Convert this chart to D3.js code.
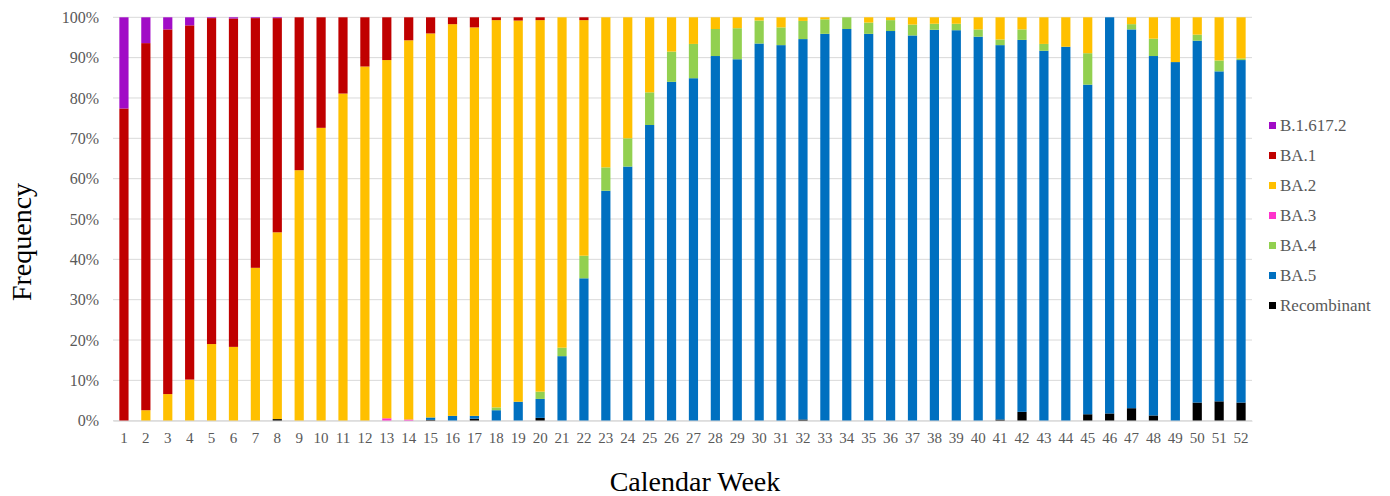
<!DOCTYPE html>
<html>
<head>
<meta charset="utf-8">
<script src="https://cdn.jsdelivr.net/npm/d3@7"></script>
<style>
  body { margin: 0; background: #fff; }
</style>
</head>
<body>
<div id="chart"></div>
<script>
// weeks 1..52
const weeks = d3.range(1, 53)

// variant names, bottom of stack first
const variants = ['Recombinant', 'BA.5', 'BA.4', 'BA.3', 'BA.2', 'BA.1', 'B.1.617.2']
const colors = ['#000000', '#0070C0', '#92D050', '#FF33CC', '#FFC000', '#C00000', '#A10CC6']
const legendOrder = ['B.1.617.2', 'BA.1', 'BA.2', 'BA.3', 'BA.4', 'BA.5', 'Recombinant']

// percentages per week
const recombinant = [0,0,0,0,0,0,0,0.4,0,0, 0,0,0,0,0.2,0,0.5,0,0,0.7, 0,0,0,0,0,0,0,0,0,0, 0,0.3,0,0,0,0,0,0,0,0, 0.3,2.2,0,0,1.6,1.8,3.1,1.3,0,4.5, 4.8,4.5]
const ba5 = [0,0,0,0,0,0,0,0,0,0, 0,0,0,0,0.6,1.2,0.7,2.6,4.7,4.7, 16.0,35.3,57.0,63.0,73.3,84.0,84.9,90.4,89.6,93.5, 93.1,94.3,95.9,97.1,95.9,96.6,95.5,96.9,96.8,95.2, 92.8,92.2,91.7,92.7,81.7,98.2,93.9,89.1,88.9,89.7, 81.8,84.9]
const ba4 = [0,0,0,0,0,0,0,0,0,0, 0,0,0,0,0,0,0,0.7,0,1.8, 2.1,5.6,5.8,7.0,8.1,7.5,8.5,6.7,7.7,5.7, 4.4,4.5,3.6,2.9,2.8,2.7,2.7,1.5,1.6,1.8, 1.4,2.6,1.7,0,7.8,0,1.3,4.3,0,1.5, 2.7,0.4]
const ba3 = [0,0,0,0,0,0,0,0,0,0, 0,0,0.6,0.3,0,0,0,0,0,0, 0,0,0,0,0,0,0,0,0,0, 0,0,0,0,0,0,0,0,0,0, 0,0,0,0,0,0,0,0,0,0, 0,0]
const ba2 = [0,2.6,6.6,10.2,19.0,18.3,37.9,46.3,62.1,72.6, 81.1,87.8,88.8,94.0,95.2,97.1,96.3,96.0,94.5,92.1, 81.9,58.4,37.2,30.0,18.6,8.5,6.6,2.9,2.7,0.8, 2.5,0.9,0.5,0,1.3,0.7,1.8,1.6,1.6,3.0, 5.5,3.0,6.6,7.3,8.9,0,1.7,5.3,11.1,4.3, 10.7,10.2]
const ba1 = [77.4,91.0,90.4,87.8,80.8,81.4,61.9,53.1,37.9,27.4, 18.9,12.2,10.6,5.7,4.0,1.7,2.5,0.7,0.8,0.7, 0,0.7,0,0,0,0,0,0,0,0, 0,0,0,0,0,0,0,0,0,0, 0,0,0,0,0,0,0,0,0,0, 0,0]
const delta = [22.6,6.4,3.0,2.0,0.2,0.3,0.2,0.2,0,0, 0,0,0,0,0,0,0,0,0,0, 0,0,0,0,0,0,0,0,0,0, 0,0,0,0,0,0,0,0,0,0, 0,0,0,0,0,0,0,0,0,0, 0,0]

const yTicks = d3.range(0, 101, 10)

const series = [recombinant, ba5, ba4, ba3, ba2, ba1, delta]

// canvas
const width = 1390,
      height = 496,
      plotLeft = 113,
      plotRight = 1252,
      plotTop = 17.3,
      plotBottom = 420.7,
      serif = '"Liberation Serif", "Times New Roman", serif'

let svg = d3.select('#chart')
  .append('svg')
  .attr('width', width)
  .attr('height', height)
  .style('font-family', serif)

let table = weeks.map((w, i) => {
  let row = { week: w }
  variants.forEach((v, j) => { row[v] = series[j][i] })
  return row
})

let stacked = d3.stack().keys(variants)(table)

let x = d3.scaleBand()
  .domain(weeks)
  .range([plotLeft, plotRight])
  .paddingInner(0.58)
  .paddingOuter(0.29)

let y = d3.scaleLinear()
  .domain([0, 100])
  .range([plotBottom, plotTop])

let color = d3.scaleOrdinal()
  .domain(variants)
  .range(colors)

// gridlines
svg.append('g')
  .selectAll('line')
  .data(yTicks)
  .enter()
  .append('line')
  .attr('x1', plotLeft)
  .attr('x2', plotRight)
  .attr('y1', d => y(d))
  .attr('y2', d => y(d))
  .attr('stroke', '#d9d9d9')
  .attr('stroke-width', 1)

// bars
svg.append('g')
  .selectAll('g')
  .data(stacked)
  .enter()
  .append('g')
  .attr('fill', d => color(d.key))
  .selectAll('rect')
  .data(d => d)
  .enter()
  .append('rect')
  .attr('x', d => x(d.data.week))
  .attr('y', d => y(d[1]))
  .attr('width', x.bandwidth())
  .attr('height', d => y(d[0]) - y(d[1]))

// y axis
let yAxis = svg.append('g')
  .attr('transform', `translate(${ plotLeft }, 0)`)
  .call(d3.axisLeft(y)
    .tickValues(yTicks)
    .tickSize(0)
    .tickPadding(14)
    .tickFormat(d => d + '%'))
yAxis.select('.domain').remove()
yAxis.attr('font-family', serif).attr('font-size', 16)
yAxis.selectAll('text')
  .attr('fill', '#595959')

// x axis
let xAxis = svg.append('g')
  .attr('transform', `translate(0, ${ plotBottom })`)
  .call(d3.axisBottom(x).tickSize(0).tickPadding(12))
xAxis.attr('font-family', serif).attr('font-size', 15)
xAxis.select('.domain')
  .attr('stroke', '#d9d9d9')
xAxis.selectAll('text')
  .attr('fill', '#595959')

// axis titles
svg.append('text')
  .attr('transform', 'translate(31, 242) rotate(-90)')
  .attr('text-anchor', 'middle')
  .style('font-size', '28px')
  .text('Frequency')

svg.append('text')
  .attr('x', 695)
  .attr('y', 491)
  .attr('text-anchor', 'middle')
  .style('font-size', '28px')
  .text('Calendar Week')

// legend
let legend = svg.append('g')
  .attr('transform', 'translate(1269, 126)')
  .selectAll('g')
  .data(legendOrder)
  .enter()
  .append('g')
  .attr('transform', (d, i) => `translate(0, ${ i * 30 })`)

legend.append('rect')
  .attr('x', 0)
  .attr('y', -4)
  .attr('width', 7)
  .attr('height', 7)
  .attr('fill', d => color(d))

legend.append('text')
  .attr('x', 11)
  .attr('y', 5)
  .attr('fill', '#595959')
  .style('font-size', '17px')
  .text(d => d)
</script>
</body>
</html>
